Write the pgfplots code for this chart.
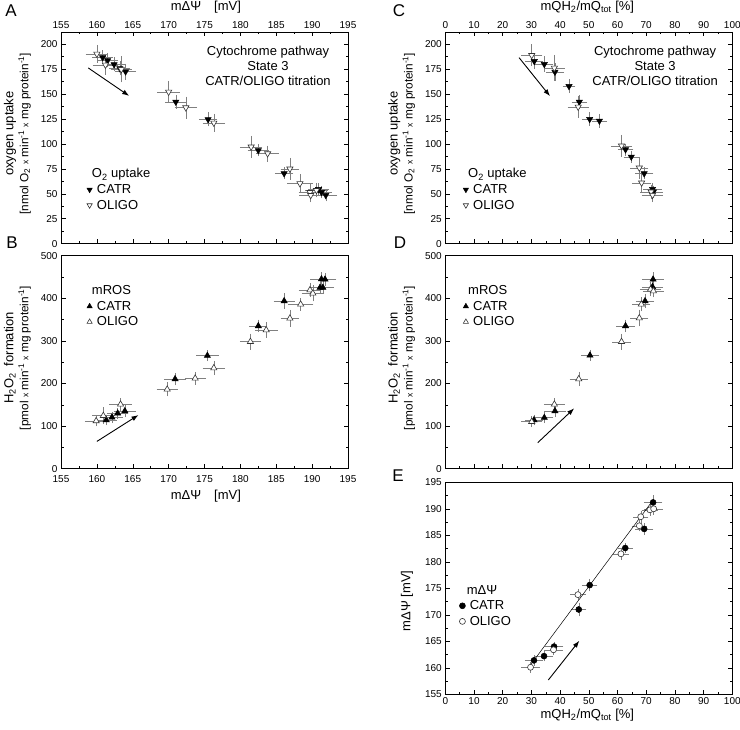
\documentclass[border=0pt]{standalone}
\usepackage{fontspec}
\setmainfont{Liberation Sans}
\usepackage{pgfplots}
\pgfplotsset{compat=1.18}
\usetikzlibrary{arrows.meta}
\newcommand\lab{\fontsize{13}{15}\selectfont}
\newcommand\leg{\fontsize{13}{15}\selectfont}
\newcommand\sm{\fontsize{11.8}{13.5}\selectfont}
\newcommand\xx{{\fontsize{8.5}{9}\selectfont x}}
\pgfplotsset{
  panel/.style={scale only axis, width=287pt, tick align=inside, minor tick num=1,
    major tick length=4.5pt, minor tick length=2.5pt,
    every tick/.style={black, line width=0.5pt},
    axis line style={line width=0.6pt},
    tick label style={font=\fontsize{10}{12}\selectfont},
    /pgf/number format/assume math mode=true,
    label style={font=\lab},
    ytick pos=both, yticklabel pos=left,
    legend style={draw=none, fill=none, font=\leg, anchor=north west, legend cell align=left, row sep=1pt},
    legend image post style={mark size=3pt},
  },
  lim/.style={legend image code/.code={\path (0cm,0cm) (0.36cm,0cm);\draw[mark repeat=2,mark phase=2,##1] plot coordinates {(0cm,0cm) (0.18cm,0cm) (0.36cm,0cm)};}},
  eb/.style={error bars/x dir=both, error bars/x explicit, error bars/y dir=both, error bars/y explicit,
    error bars/error bar style={gray, line width=0.45pt},
    error bars/error mark options={gray, mark size=2pt, line width=0.45pt}},
  fdown/.style={eb, only marks, lim, mark=triangle*, mark size=3.6pt, mark options={rotate=180, fill=black, draw=black, line width=0.5pt}},
  odown/.style={eb, only marks, lim, mark=triangle*, mark size=3.6pt, mark options={rotate=180, fill=white, draw=black!80, line width=0.6pt}},
  fup/.style={eb, only marks, lim, mark=triangle*, mark size=3.6pt, mark options={fill=black, draw=black, line width=0.5pt}},
  oup/.style={eb, only marks, lim, mark=triangle*, mark size=3.6pt, mark options={fill=white, draw=black!80, line width=0.6pt}},
  fcirc/.style={eb, only marks, lim, mark=*, mark size=3pt, mark options={fill=black, draw=black, line width=0.5pt}},
  ocirc/.style={eb, only marks, lim, mark=*, mark size=3pt, mark options={fill=white, draw=black!80, line width=0.6pt}},
  arr/.style={-{Latex[length=7pt,width=5pt]}, line width=0.9pt, black, forget plot},
}
\begin{document}
\begin{tikzpicture}
\useasboundingbox (0pt,0pt) rectangle (740pt,730pt);
% ---------------- A ----------------
\begin{axis}[panel, at={(61pt,486.3pt)}, anchor=south west, height=211.7pt,
  xmin=155, xmax=195, ymin=0, ymax=212, xtick={155,160,...,195}, ytick={0,25,...,200},
  xtick pos=both, xticklabel pos=upper,
  xlabel={mΔΨ\quad[mV]}, xlabel style={at={(axis description cs:0.505,1.118)}, anchor=center},
  ylabel={oxygen uptake\\{\sm [nmol O\textsubscript{2} \xx{} min\textsuperscript{-1} \xx{} mg protein\textsuperscript{-1}]}},
  ylabel style={at={(axis description cs:-0.152,0.52)}, anchor=center, align=center},
  legend style={at={(axis description cs:0.07,0.375)}}]
\addlegendimage{empty legend}\addlegendentry{\hspace{-5pt}O\textsubscript{2} uptake}
\addplot[fdown] coordinates {
 (160.8,186.5) +- (1.2,5) (161.5,183.5) +- (1.2,5) (162.4,179.5) +- (1.2,5)
 (163.2,175.5) +- (1.2,5) (164.0,172.3) +- (1.2,6) (171.0,142) +- (1.2,5)
 (175.5,124.5) +- (1.0,5) (182.5,93.5) +- (1.2,4) (186.1,70.3) +- (1.0,4)
 (190.9,54.5) +- (1.2,4) (191.3,51.5) +- (1.2,4) (191.9,48.5) +- (1.3,4)};
\addlegendentry{CATR}
\addplot[odown] coordinates {
 (160.0,190) +- (1.3,7) (161.2,179) +- (1.5,8) (163.4,174.5) +- (1.2,11)
 (170.0,152) +- (1.3,9) (172.4,136.3) +- (1.3,9) (176.3,121) +- (1.3,7)
 (181.5,97) +- (1.3,9) (183.8,90.3) +- (1.3,6) (186.9,75) +- (1.0,9)
 (188.3,60.3) +- (1.5,7) (189.7,51.5) +- (1.3,6) (189.8,48.5) +- (1.3,5)
 (190.6,53.5) +- (1.3,5)};
\addlegendentry{OLIGO}
\addplot[arr] coordinates {(158.8,176) (164.5,148)};
\node[font=\lab, align=center] at (axis cs:183.85,178) {Cytochrome pathway\\State 3\\CATR/OLIGO titration};
\end{axis}
% ---------------- B ----------------
\begin{axis}[panel, at={(61pt,261.3pt)}, anchor=south west, height=213pt,
  xmin=155, xmax=195, ymin=0, ymax=500, xtick={155,160,...,195}, ytick={0,100,...,500},
  xtick pos=bottom, xticklabel style={yshift=-3pt},
  xlabel={mΔΨ\quad[mV]}, xlabel style={at={(axis description cs:0.505,-0.13)}, anchor=center},
  ylabel={H\textsubscript{2}O\textsubscript{2}\ \ formation\\{\sm [pmol \xx{} min\textsuperscript{-1} \xx{} mg protein\textsuperscript{-1}]}},
  ylabel style={at={(axis description cs:-0.152,0.52)}, anchor=center, align=center},
  legend style={at={(axis description cs:0.07,0.88)}}]
\addlegendimage{empty legend}\addlegendentry{\hspace{-5pt}mROS}
\addplot[fup] coordinates {
 (161.3,114.2) +- (1.2,8) (162.1,120.5) +- (1.2,8) (162.9,130) +- (1.2,8)
 (163.9,135.4) +- (1.3,10) (170.9,210.5) +- (1.3,10) (175.4,265.3) +- (1.3,8)
 (182.5,335) +- (1.0,10) (186.1,393.6) +- (1.2,14) (191.1,424.9) +- (1.3,10)
 (191.3,445) +- (1.3,12) (191.8,444.4) +- (1.3,10) (191.5,425) +- (1.3,10)};
\addlegendentry{CATR}
\addplot[oup] coordinates {
 (159.9,112) +- (1.3,8) (160.9,124.4) +- (1.3,15) (163.3,151) +- (1.3,10)
 (169.8,186.2) +- (1.2,12) (173.7,212) +- (1.2,10) (176.3,236.3) +- (1.3,12)
 (181.4,298.1) +- (1.2,14) (183.6,325.5) +- (1.3,14) (186.9,352.9) +- (1.0,15)
 (188.4,385.8) +- (1.5,10) (189.7,419.4) +- (1.3,12) (190.1,411.6) +- (1.3,14)};
\addlegendentry{OLIGO}
\addplot[arr] coordinates {(160.0,64) (165.8,126)};
\end{axis}
% ---------------- C ----------------
\begin{axis}[panel, at={(445.3pt,486.3pt)}, anchor=south west, height=211.7pt,
  xmin=0, xmax=100, ymin=0, ymax=212, xtick={0,10,...,100}, ytick={0,25,...,200},
  xtick pos=both, xticklabel pos=upper,
  xlabel={mQH\textsubscript{2}/mQ\textsubscript{tot} [\%]}, xlabel style={at={(axis description cs:0.495,1.118)}, anchor=center},
  ylabel={oxygen uptake\\{\sm [nmol O\textsubscript{2} \xx{} min\textsuperscript{-1} \xx{} mg protein\textsuperscript{-1}]}},
  ylabel style={at={(axis description cs:-0.152,0.52)}, anchor=center, align=center},
  legend style={at={(axis description cs:0.042,0.375)}}]
\addlegendimage{empty legend}\addlegendentry{\hspace{-5pt}O\textsubscript{2} uptake}
\addplot[fdown] coordinates {
 (31.0,182.7) +- (2.5,6) (34.5,179.7) +- (2.5,6) (38.2,172) +- (2.5,7)
 (43.1,157.7) +- (1.5,5) (46.7,142) +- (2.0,5) (50.3,124.7) +- (2.0,5)
 (53.7,123) +- (2.0,5) (62.8,94.3) +- (2.0,4) (64.8,87) +- (2.0,4)
 (69.3,70.3) +- (2.5,4) (72.2,54.7) +- (2.5,4) (72.5,52) +- (2.5,4)};
\addlegendentry{CATR}
\addplot[odown] coordinates {
 (30.1,188.7) +- (3,9) (38.0,176) +- (3,11) (46.3,137) +- (3,9)
 (61.4,98) +- (3,9) (67.6,76) +- (2.5,9) (68.4,61) +- (2.5,7)
 (71.7,52) +- (3,5) (72.2,48.7) +- (3,5)};
\addlegendentry{OLIGO}
\addplot[arr] coordinates {(25.7,186.3) (36.5,147.7)};
\node[font=\lab, align=center] at (axis cs:73.1,178) {Cytochrome pathway\\State 3\\CATR/OLIGO titration};
\end{axis}
% ---------------- D ----------------
\begin{axis}[panel, at={(445.3pt,261.3pt)}, anchor=south west, height=213pt,
  xmin=0, xmax=100, ymin=0, ymax=500, xtick={0,10,...,100}, ytick={0,100,...,500},
  xtick pos=bottom, xticklabels={},
  ylabel={H\textsubscript{2}O\textsubscript{2}\ \ formation\\{\sm [pmol \xx{} min\textsuperscript{-1} \xx{} mg protein\textsuperscript{-1}]}},
  ylabel style={at={(axis description cs:-0.152,0.52)}, anchor=center, align=center},
  legend style={at={(axis description cs:0.042,0.88)}}]
\addlegendimage{empty legend}\addlegendentry{\hspace{-5pt}mROS}
\addplot[fup] coordinates {
 (30.9,114.2) +- (2.5,8) (34.5,119.7) +- (2.5,8) (38.2,135.4) +- (3,10)
 (50.4,266) +- (2.5,8) (62.8,335) +- (2.5,10) (69.6,393.6) +- (2.5,12)
 (72.4,444.4) +- (3,12) (72.2,427) +- (3,10)};
\addlegendentry{CATR}
\addplot[oup] coordinates {
 (30.1,110.3) +- (3,8) (38.0,151) +- (3,10) (46.5,210.5) +- (2.5,12)
 (61.4,298) +- (2.5,14) (67.6,353.7) +- (2.5,15) (68.3,385.8) +- (2.5,12)
 (71.5,421) +- (3,12) (72.5,417) +- (3,10)};
\addlegendentry{OLIGO}
\addplot[arr] coordinates {(32.2,61) (44.9,141.6)};
\end{axis}
% ---------------- E ----------------
\begin{axis}[panel, at={(445.3pt,35.7pt)}, anchor=south west, height=212pt,
  xmin=0, xmax=100, ymin=155, ymax=195, xtick={0,10,...,100}, ytick={155,160,...,195},
  xtick pos=bottom,
  xlabel={mQH\textsubscript{2}/mQ\textsubscript{tot} [\%]}, xlabel style={at={(axis description cs:0.495,-0.098)}, anchor=center},
  ylabel={mΔΨ [mV]},
  ylabel style={at={(axis description cs:-0.133,0.44)}, anchor=center},
  legend style={at={(axis description cs:0.03,0.535)}}]
\addlegendimage{empty legend}\addlegendentry{\hspace{-3pt}mΔΨ}
\addplot[fcirc] coordinates {
 (30.9,161.4) +- (2.5,0.6) (34.4,162.2) +- (2.5,0.6) (37.9,164.0) +- (2.5,0.5)
 (46.5,171.0) +- (2,0.9) (50.3,175.6) +- (2,0.8) (62.7,182.6) +- (2,0.6)
 (69.3,186.2) +- (2.5,0.7) (72.4,191.2) +- (2.5,1.0)};
\addlegendentry{CATR}
\addplot[ocirc] coordinates {
 (29.7,160.1) +- (2.5,0.7) (37.7,163.4) +- (2.5,0.7) (46.2,173.8) +- (2,0.7)
 (61.2,181.5) +- (2,0.7) (67.6,186.8) +- (2,0.7) (68.1,188.5) +- (2,0.8)
 (71.3,189.8) +- (2,0.7) (72.6,190.0) +- (2.5,0.7)};
\addlegendentry{OLIGO}
\addplot[black, line width=0.5pt, forget plot] coordinates {(29.5,160.4) (72.6,191.8)};
\addplot[arr] coordinates {(35.9,157.7) (46.7,165.1)};
\end{axis}
% panel letters
\node[font=\fontsize{17}{20}\selectfont] at (11pt,719pt) {A};
\node[font=\fontsize{17}{20}\selectfont] at (12pt,487pt) {B};
\node[font=\fontsize{17}{20}\selectfont] at (399pt,719pt) {C};
\node[font=\fontsize{17}{20}\selectfont] at (400pt,487pt) {D};
\node[font=\fontsize{17}{20}\selectfont] at (398pt,254pt) {E};
\end{tikzpicture}
\end{document}
